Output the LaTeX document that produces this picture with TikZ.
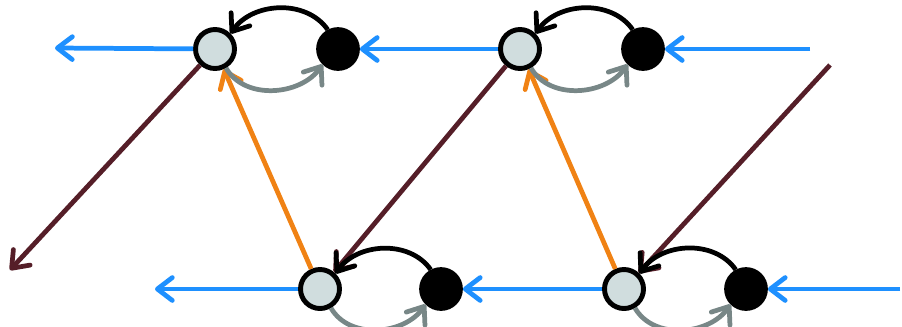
\documentclass[tikz,border=0pt]{standalone}
\usetikzlibrary{arrows.meta}
\definecolor{lightfill}{RGB}{208,221,222}
\definecolor{cblue}{RGB}{30,144,255}
\definecolor{cbrown}{RGB}{85,30,40}
\definecolor{corange}{RGB}{240,130,20}
\definecolor{cgray}{RGB}{120,135,135}
\begin{document}
\begin{tikzpicture}[x=0.02cm,y=-0.02cm,
  lnode/.style={circle,draw=black,fill=lightfill,line width=2.8pt,minimum size=0.78cm,inner sep=0pt},
  bnode/.style={circle,fill=black,draw=black,line width=1pt,minimum size=0.84cm,inner sep=0pt},
  conn/.style={line width=2.7pt,-{Straight Barb[length=8.5pt,width=13pt,round]}},
  bluearr/.style={conn,draw=cblue},
  brownarr/.style={conn,draw=cbrown},
  orangearr/.style={conn,draw=corange},
  blackarr/.style={conn,draw=black},
  grayarr/.style={conn,draw=cgray}]
\useasboundingbox (0,0) rectangle (902,326);
\node[lnode] (L1) at (215,49) {};
\node[bnode] (B1) at (338,49) {};
\node[lnode] (L2) at (520,49) {};
\node[bnode] (B2) at (643,49) {};
\node[lnode] (L3) at (320,289) {};
\node[bnode] (B3) at (441,289) {};
\node[lnode] (L4) at (624,289) {};
\node[bnode] (B4) at (746,289) {};
\coordinate (e1) at (55,48);
\coordinate (e2) at (810,49);
\coordinate (e3) at (155,289);
\coordinate (e4) at (900,289);
\coordinate (d1) at (10,270);
\coordinate (d2) at (830,65);
% blue
\draw[bluearr] (L1) -- (e1);
\draw[bluearr] (L2) -- (B1);
\draw[bluearr] (e2) -- (B2);
\draw[bluearr] (L3) -- (e3);
\draw[bluearr] (L4) -- (B3);
\draw[bluearr] (e4) -- (B4);
% brown
\draw[brownarr] (L1) -- (d1);
\draw[brownarr] (L2) -- (L3);
\draw[brownarr] (d2) -- (L4);
% orange
\draw[orangearr] (L3) -- (L1);
\draw[orangearr] (L4) -- (L2);
% loops
\foreach \a/\b in {L1/B1,L2/B2,L3/B3,L4/B4}{
  \draw[blackarr] (\b.118) to[out=125,in=55] (\a.45);
  \draw[grayarr] (\a.-60) to[out=-60,in=-125] (\b.-135);
}
\end{tikzpicture}
\end{document}
